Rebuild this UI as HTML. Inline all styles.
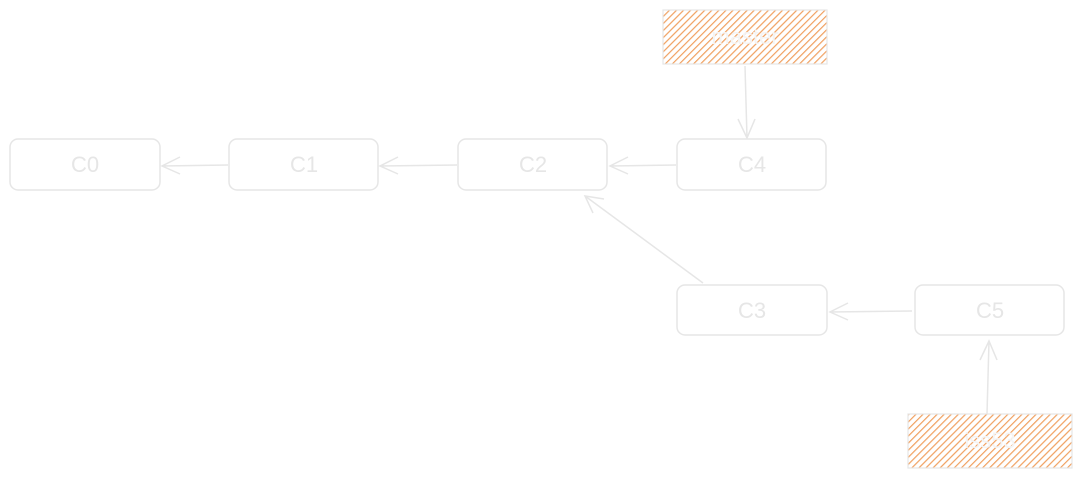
<!DOCTYPE html>
<html><head><style>html,body{margin:0;padding:0;background:#fff;width:1080px;height:477px;overflow:hidden}</style></head>
<body>
<svg width="1080" height="477" xmlns="http://www.w3.org/2000/svg">
<defs>
<pattern id="h" patternUnits="userSpaceOnUse" width="5" height="5" patternTransform="rotate(45)">
<rect width="5" height="5" fill="#fff"/>
<line x1="0" y1="0" x2="0" y2="5" stroke="#f0a060" stroke-width="2.4"/>
</pattern>
</defs>
<g fill="none" stroke="#e6e6e6" stroke-width="1.5">
<rect x="10" y="139" width="150" height="51" rx="8"/>
<rect x="229" y="139" width="149" height="51" rx="8"/>
<rect x="458" y="139" width="149" height="51" rx="8"/>
<rect x="677" y="139" width="149" height="51" rx="8"/>
<rect x="677" y="285" width="150" height="50" rx="8"/>
<rect x="915" y="285" width="149" height="50" rx="8"/>
<path d="M228 165 L162 166 M180 157 L162 166 L180 174"/>
<path d="M457 165 L380 166 M398 157 L380 166 L398 174"/>
<path d="M676 165 L610 166 M628 157 L610 166 L628 174"/>
<path d="M703 283 L585 196 M593 213 L585 196 L604 199"/>
<path d="M912 311 L830 312 M848 303 L830 312 L848 320"/>
<path d="M745 66 L747 138 M738 119 L747 138 L755 119"/>
<path d="M987 414 L989 341 M980 360 L989 341 L997 360"/>
</g>
<rect x="663" y="10" width="164" height="54" fill="url(#h)" stroke="#e6e6e6" stroke-width="1.2"/>
<rect x="908" y="414" width="164" height="54" fill="url(#h)" stroke="#e6e6e6" stroke-width="1.2"/>
<g font-family="Liberation Sans, sans-serif" font-size="22" fill="#e6e6e6" text-anchor="middle">
<text x="85" y="172">C0</text>
<text x="304" y="172">C1</text>
<text x="533" y="172">C2</text>
<text x="752" y="172">C4</text>
<text x="752" y="318">C3</text>
<text x="990" y="318">C5</text>
<text x="745" y="44" fill="#f4f4f4">master</text>
<text x="990" y="448" fill="#f4f4f4">iss53</text>
</g>
</svg>
</body></html>
